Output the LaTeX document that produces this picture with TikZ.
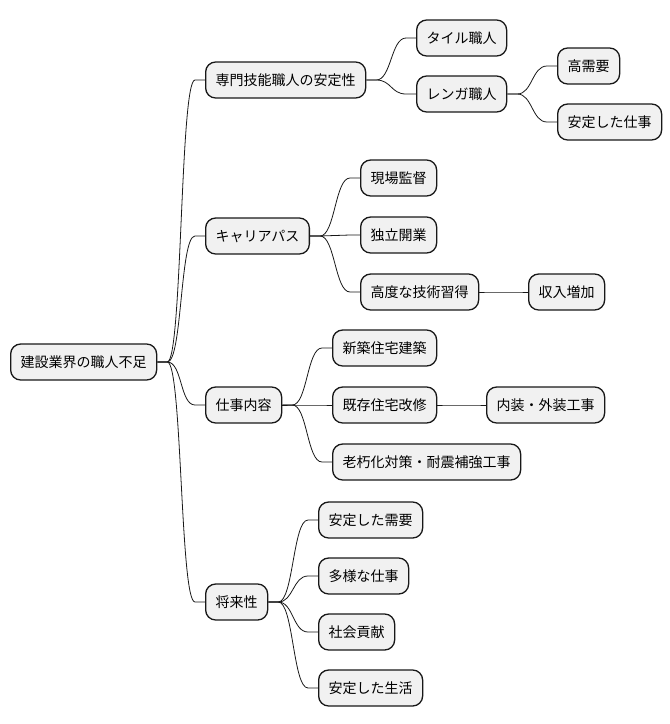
\documentclass[tikz,border=0pt]{standalone}
\usepackage{fontspec}
\newfontfamily\jp{Noto Sans CJK JP}
\definecolor{boxfill}{HTML}{F1F1F1}
\definecolor{boxline}{HTML}{181818}
\tikzset{
  box/.style={draw=boxline, fill=boxfill, rounded corners=10pt, line width=1.3pt,
    minimum height=36pt, inner xsep=10pt, inner ysep=0pt, anchor=west,
    font=\jp\fontsize{14pt}{16pt}\selectfont},
  link/.style={draw=boxline, line width=0.8pt}
}
\newcommand\mmedge[2]{\draw[link] (#1.east) -- ++(10pt,0) .. controls +(15pt,0) and +(-15pt,0) .. ([xshift=-10pt]#2.west) -- (#2.west);}
\begin{document}
\begin{tikzpicture}[x=1pt,y=-1pt]
\useasboundingbox (0,0) rectangle (670,724);
\node[box] (root) at (10,362) {建設業界の職人不足};
\node[box] (a) at (205,80) {専門技能職人の安定性};
\node[box] (b) at (205,236) {キャリアパス};
\node[box] (c) at (205,405) {仕事内容};
\node[box] (d) at (205,602) {将来性};
\node[box] (a1) at (416,38) {タイル職人};
\node[box] (a2) at (416,94) {レンガ職人};
\node[box] (a21) at (557,66) {高需要};
\node[box] (a22) at (557,122) {安定した仕事};
\node[box] (b1) at (360,178) {現場監督};
\node[box] (b2) at (360,235) {独立開業};
\node[box] (b3) at (360,292) {高度な技術習得};
\node[box] (b31) at (528,292) {収入増加};
\node[box] (c1) at (332,348) {新築住宅建築};
\node[box] (c2) at (332,405) {既存住宅改修};
\node[box] (c21) at (486,405) {内装・外装工事};
\node[box] (c3) at (332,462) {老朽化対策・耐震補強工事};
\node[box] (d1) at (318,520) {安定した需要};
\node[box] (d2) at (318,576) {多様な仕事};
\node[box] (d3) at (318,632) {社会貢献};
\node[box] (d4) at (318,688) {安定した生活};
\mmedge{root}{a}
\mmedge{root}{b}
\mmedge{root}{c}
\mmedge{root}{d}
\mmedge{a}{a1}
\mmedge{a}{a2}
\mmedge{a2}{a21}
\mmedge{a2}{a22}
\mmedge{b}{b1}
\mmedge{b}{b2}
\mmedge{b}{b3}
\mmedge{b3}{b31}
\mmedge{c}{c1}
\mmedge{c}{c2}
\mmedge{c}{c3}
\mmedge{c2}{c21}
\mmedge{d}{d1}
\mmedge{d}{d2}
\mmedge{d}{d3}
\mmedge{d}{d4}
\end{tikzpicture}
\end{document}
